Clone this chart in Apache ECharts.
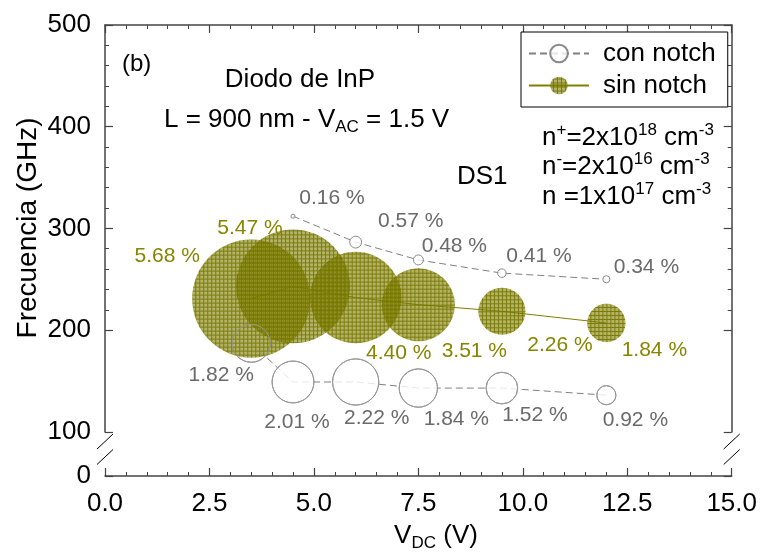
<!DOCTYPE html>
<html>
<head>
<meta charset="utf-8">
<script src="https://cdn.jsdelivr.net/npm/echarts@6/dist/echarts.min.js"></script>
<style>
html, body { margin: 0; padding: 0; background: #fff; }
#chart { width: 760px; height: 559px; }
</style>
</head>
<body>
<div id="chart"></div>
<script>
// V_DC bias points (V)
const vdc = [3.5, 4.5, 6.0, 7.5, 9.5, 12.0];
const vdcUpper = [4.5, 6.0, 7.5, 9.5, 12.0];

// "sin notch": oscillation frequency (GHz) and efficiency (%)
const freqSin = [231, 243, 232, 225, 218.5, 207];
const pctSin = [5.68, 5.47, 4.40, 3.51, 2.26, 1.84];

// "con notch": upper branch
const freqConUpper = [312, 286.5, 269, 256, 250];
const pctConUpper = [0.16, 0.57, 0.48, 0.41, 0.34];

// "con notch": lower branch
const freqConLower = [187, 149, 149, 143, 143, 136];
const pctConLower = [1.82, 2.01, 2.22, 1.84, 1.52, 0.92];

// axis ticks
const xMin = 0, xMax = 15, xStep = 2.5;
const yMin = 0, yMax = 500, yStep = 100;

// label placement (pixel offsets from the bubble centre)
const offSin = [[-84, -42], [-43, -58], [43, 56], [56, 47], [58, 34], [48, 27]];
const offUpper = [[39, -18], [55, -21], [36, -14], [37, -17], [40, -12]];
const offLower = [[-30, 32], [4, 40], [21, 36], [38, 31], [33, 27], [29, 25]];

const FONT = 'Liberation Sans, Arial, Helvetica, sans-serif';
const OLIVE = '#808000';
const GREY = '#8a8a8a';
const BUBBLE_PX_PER_PCT = 20.8; // bubble diameter per percent

// cross-hatched olive fill (4 px tile)
const meshCanvas = (function () {
  const c = document.createElement('canvas');
  c.width = 4; c.height = 4;
  const g = c.getContext('2d');
  g.fillStyle = 'rgba(128,128,0,0.6)';
  g.fillRect(1, 1, 3, 3);
  g.fillStyle = 'rgba(115,115,0,0.95)';
  g.fillRect(0, 0, 4, 1);
  g.fillRect(0, 1, 1, 3);
  return c;
})();
// symbols are unit paths scaled by size/2, so the tile is scaled back to stay 4 px
function mesh(diameter) {
  const s = diameter ? 2 / diameter : 1;
  return { image: meshCanvas, repeat: 'repeat', scaleX: s, scaleY: s };
}

function bubbleSize(p) { return p * BUBBLE_PX_PER_PCT; }

function points(xs, ys, pcts, offs, patterned) {
  return xs.map((x, i) => {
    const item = { value: [x, ys[i], pcts[i]], label: { offset: offs[i] } };
    if (patterned) item.itemStyle = { color: mesh(bubbleSize(pcts[i])) };
    return item;
  });
}

function pctLabel(color) {
  return {
    show: true,
    position: 'inside',
    formatter: p => p.value[2].toFixed(2) + ' %',
    color: color,
    fontSize: 21,
    fontFamily: FONT
  };
}

const yBreaks = [{ start: 0, end: 100, gap: '9.8%' }];

function yAxisCfg(pos, showLabels) {
  return {
    type: 'value',
    position: pos,
    min: yMin, max: yMax, interval: yStep,
    breaks: yBreaks,
    breakArea: { show: false },
    axisLine: { show: true, onZero: false, lineStyle: { color: '#444', width: 1.5 } },
    axisTick: { show: true, inside: true, length: 8, lineStyle: { color: '#444', width: 1.2 } },
    minorTick: { show: true, splitNumber: 5, length: 4, lineStyle: { color: '#444', width: 1 } },
    splitLine: { show: false },
    axisLabel: {
      show: showLabels, color: '#000', fontSize: 26, fontFamily: FONT, margin: 14
    }
  };
}

function xAxisCfg(pos, showLabels) {
  return {
    type: 'value',
    position: pos,
    min: xMin, max: xMax, interval: xStep,
    axisLine: { show: true, onZero: false, lineStyle: { color: '#444', width: 1.5 } },
    axisTick: { show: true, inside: true, length: 8, lineStyle: { color: '#444', width: 1.2 } },
    minorTick: { show: true, splitNumber: 5, length: 4, lineStyle: { color: '#444', width: 1 } },
    splitLine: { show: false },
    axisLabel: {
      show: showLabels, color: '#000', fontSize: 26, fontFamily: FONT, margin: 15,
      formatter: v => v.toFixed(1)
    }
  };
}

const chart = echarts.init(document.getElementById('chart'), null, { renderer: 'canvas' });

const option = {
  animation: false,
  backgroundColor: '#fff',
  grid: { left: 105, right: 27, top: 25, bottom: 83 },
  xAxis: [xAxisCfg('bottom', true), xAxisCfg('top', false)],
  yAxis: [yAxisCfg('left', true), yAxisCfg('right', false)],
  legend: {
    data: ['con notch', 'sin notch'],
    orient: 'vertical',
    left: 521, top: 32,
    padding: [8, 12, 8, 7],
    itemWidth: 60, itemHeight: 22, itemGap: 5,
    borderColor: '#000', borderWidth: 1, borderRadius: 0,
    backgroundColor: '#fff',
    textStyle: { fontSize: 26, color: '#000', fontFamily: FONT, lineHeight: 27, padding: [0, 0, 0, 9] }
  },
  series: [
    {
      // lower branch: dashed line and softly filled circles, under the olive bubbles
      name: 'con notch',
      type: 'line',
      z: 2,
      data: points(vdc, freqConLower, pctConLower, offLower, false),
      symbol: 'circle',
      symbolSize: v => bubbleSize(v[2]),
      itemStyle: { color: 'rgba(255,255,255,0.8)', borderColor: GREY, borderWidth: 1 },
      lineStyle: { color: '#808080', width: 1, type: [7, 4] },
      label: pctLabel('#6a6a6a'),
      emphasis: { disabled: true }
    },
    {
      name: 'sin notch',
      type: 'line',
      z: 3,
      data: points(vdc, freqSin, pctSin, offSin, true),
      symbol: 'circle',
      symbolSize: v => bubbleSize(v[2]),
      itemStyle: { color: mesh(0), borderWidth: 0 },
      lineStyle: { color: OLIVE, width: 1 },
      label: pctLabel('#858500'),
      emphasis: { disabled: true }
    },
    {
      // lower branch outlines, kept visible on top of the olive bubbles
      name: 'con notch',
      type: 'line',
      z: 4,
      silent: true,
      data: vdc.map((x, i) => [x, freqConLower[i], pctConLower[i]]),
      symbol: 'circle',
      symbolSize: v => bubbleSize(v[2]),
      itemStyle: { color: 'rgba(0,0,0,0)', borderColor: '#9a9a9a', borderWidth: 1 },
      lineStyle: { opacity: 0 },
      label: { show: false },
      emphasis: { disabled: true }
    },
    {
      name: 'con notch',
      type: 'line',
      z: 5,
      data: points(vdcUpper, freqConUpper, pctConUpper, offUpper, false),
      symbol: 'circle',
      symbolSize: v => Math.max(bubbleSize(v[2]), 4),
      itemStyle: { color: 'rgba(255,255,255,0.8)', borderColor: GREY, borderWidth: 1 },
      lineStyle: { color: '#808080', width: 1, type: [7, 4] },
      label: pctLabel('#6a6a6a'),
      emphasis: { disabled: true }
    }
  ]
};

chart.setOption(option);

// annotations, axis titles and axis-break marks
const mainTxt = { fontSize: 26, fontFamily: FONT, color: '#000', lineHeight: 29, verticalAlign: 'bottom' };
const supTxt = { fontSize: 17, fontFamily: FONT, color: '#000', lineHeight: 16, verticalAlign: 'top' };
const mainTop = { fontSize: 26, fontFamily: FONT, color: '#000', lineHeight: 29, verticalAlign: 'top' };
const subTxt = { fontSize: 17, fontFamily: FONT, color: '#000', lineHeight: 18, padding: [14, 0, 0, 0], verticalAlign: 'bottom' };

function txt(x, y, text, rich, align, extra) {
  return Object.assign({
    type: 'text', x: x, y: y, z: 20,
    style: { text: text, rich: rich, align: align || 'left', verticalAlign: 'middle', fill: '#000', fontSize: 26, fontFamily: FONT }
  }, extra || {});
}

const y100 = chart.convertToPixel({ yAxisIndex: 0 }, 100);
const y0 = chart.convertToPixel({ yAxisIndex: 0 }, 0);
const xl = chart.convertToPixel({ xAxisIndex: 0 }, xMin);
const xr = chart.convertToPixel({ xAxisIndex: 0 }, xMax);
const slashes = [];
[xl, xr].forEach(cx => {
  [0.22, 0.57].forEach(f => {
    const cy = y100 + f * (y0 - y100);
    slashes.push({ type: 'line', z: 20, shape: { x1: cx - 8, y1: cy + 7.5, x2: cx + 8, y2: cy - 7.5 }, style: { stroke: '#000', lineWidth: 1 } });
  });
});

chart.setOption({
  graphic: [
    txt(122, 64, '(b)', null, 'left', { style: { text: '(b)', fontSize: 24, fontFamily: FONT, fill: '#000', verticalAlign: 'middle' } }),
    txt(300, 78, '{m|Diodo de InP}', { m: mainTxt }, 'center'),
    txt(164, 121, '{m|L = 900 nm - V}{s|AC}{m| = 1.5 V}', { m: mainTop, s: subTxt }, 'left'),
    txt(457, 175, '{m|DS1}', { m: mainTxt }, 'left'),
    txt(542, 136, '{m|n}{p|+}{m|=2x10}{p|18}{m| cm}{p|-3}', { m: mainTxt, p: supTxt }, 'left'),
    txt(542, 165, '{m|n}{p|-}{m|=2x10}{p|16}{m| cm}{p|-3}', { m: mainTxt, p: supTxt }, 'left'),
    txt(542, 195, '{m|n =1x10}{p|17}{m| cm}{p|-3}', { m: mainTxt, p: supTxt }, 'left'),
    txt(436, 537, '{m|V}{s|DC}{m| (V)}', { m: mainTop, s: subTxt }, 'center'),
    txt(28, 228, '{m|Frecuencia (GHz)}', { m: { fontSize: 28, fontFamily: FONT, color: '#000' } }, 'center', { rotation: Math.PI / 2 })
  ].concat(slashes)
});
</script>
</body>
</html>
